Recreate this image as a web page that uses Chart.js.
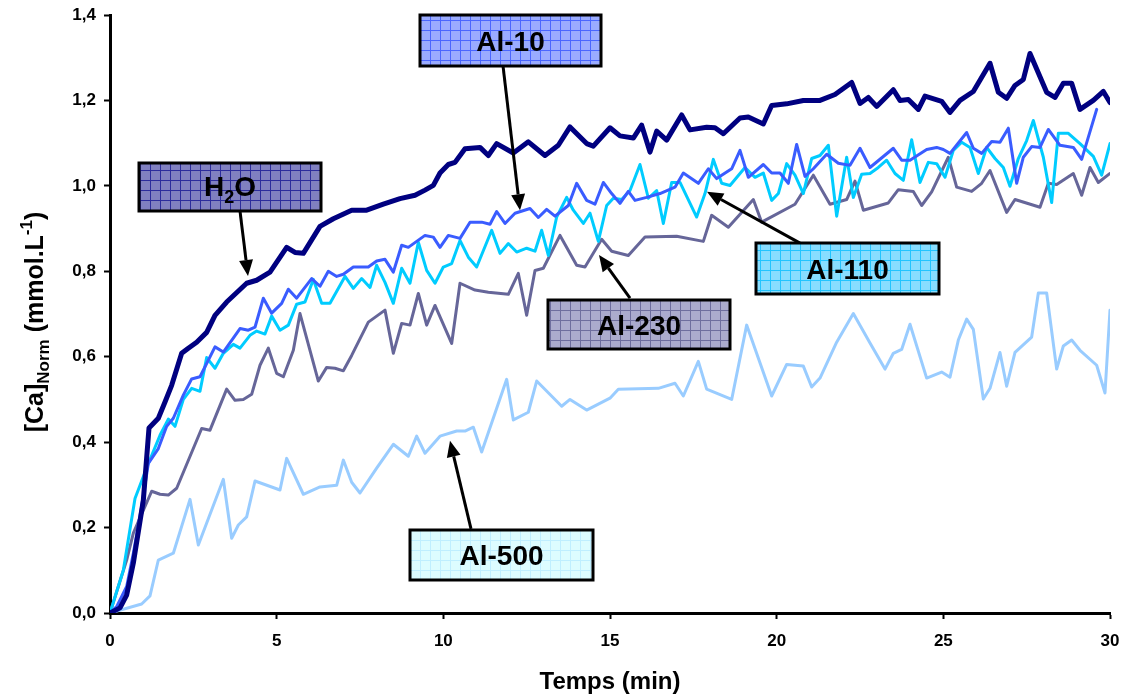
<!DOCTYPE html>
<html>
<head>
<meta charset="utf-8">
<script src="https://cdn.jsdelivr.net/npm/chart.js@4.4.1/dist/chart.umd.min.js"></script>
<style>
html,body{margin:0;padding:0;background:#fff;}
#wrap{width:1125px;height:697px;}
</style>
</head>
<body>
<div id="wrap"><canvas id="c" width="1125" height="697"></canvas></div>
<script>
// ---- DATA (time in min, [Ca]Norm in mmol/L) ----
const xTicks = [0, 5, 10, 15, 20, 25, 30];
const yTicks = [0, 0.2, 0.4, 0.6, 0.8, 1.0, 1.2, 1.4];
const seriesNames = ['H2O', 'Al-10', 'Al-110', 'Al-230', 'Al-500'];

const h2oT = [0,0.3,0.5,0.7,1.0,1.17,1.45,1.65,1.85,2.15,2.35,2.6,2.9,3.15,3.5,4.1,4.4,4.8,5.3,5.55,5.8,6.3,6.7,7.25,7.7,8.2,8.7,9.15,9.45,9.7,9.9,10.15,10.35,10.65,11.1,11.35,11.6,12.1,12.55,13.05,13.45,13.8,14.3,14.5,15.0,15.3,15.7,15.95,16.2,16.4,16.7,17.15,17.4,17.9,18.15,18.4,18.9,19.15,19.6,19.85,20.3,20.8,21.3,21.75,22.25,22.5,22.75,23.0,23.5,23.7,23.95,24.25,24.45,24.95,25.2,25.5,25.9,26.4,26.65,26.9,27.15,27.4,27.6,28.1,28.35,28.6,28.85,29.1,29.5,29.8,30];
const h2oV = [0,0.012,0.042,0.117,0.264,0.433,0.456,0.494,0.533,0.608,0.62,0.634,0.657,0.697,0.728,0.772,0.779,0.798,0.856,0.844,0.842,0.905,0.923,0.943,0.943,0.957,0.97,0.978,0.99,1.001,1.03,1.05,1.055,1.087,1.09,1.071,1.099,1.077,1.103,1.071,1.095,1.138,1.099,1.093,1.136,1.117,1.112,1.142,1.079,1.128,1.107,1.166,1.131,1.137,1.136,1.122,1.159,1.161,1.145,1.188,1.192,1.2,1.2,1.214,1.242,1.193,1.207,1.186,1.225,1.2,1.202,1.179,1.21,1.198,1.172,1.2,1.221,1.287,1.219,1.205,1.235,1.249,1.31,1.219,1.207,1.24,1.24,1.179,1.2,1.221,1.195];

const al10T = [0,0.2,0.5,0.7,0.95,1.15,1.45,1.7,1.9,2.2,2.45,2.7,3.15,3.4,3.9,4.15,4.35,4.6,4.85,5.15,5.35,5.6,6.05,6.3,6.55,6.8,7.0,7.3,7.75,8.0,8.25,8.5,8.75,8.95,9.45,9.7,9.9,10.15,10.5,10.8,11.15,11.4,11.6,11.85,12.15,12.6,12.85,13.1,13.35,13.75,14.0,14.3,14.55,14.8,15.05,15.3,15.55,15.75,16.1,16.5,16.95,17.2,17.65,17.95,18.2,18.65,18.9,19.15,19.6,19.85,20.1,20.35,20.6,20.85,21.1,21.5,21.85,22.2,22.5,22.8,23.5,23.75,24.0,24.5,24.8,25.0,25.2,25.7,25.9,26.15,26.45,26.7,26.95,27.2,27.4,27.65,27.9,28.15,28.5,28.9,29.15,29.6];
const al10V = [0,0.015,0.062,0.14,0.25,0.35,0.385,0.437,0.456,0.51,0.548,0.553,0.623,0.611,0.666,0.662,0.669,0.737,0.702,0.725,0.758,0.737,0.783,0.765,0.8,0.788,0.793,0.81,0.81,0.824,0.828,0.798,0.861,0.856,0.884,0.88,0.856,0.884,0.877,0.915,0.915,0.91,0.94,0.912,0.936,0.947,0.926,0.945,0.929,0.954,1.006,0.966,0.957,1.008,0.982,0.959,0.987,0.966,0.973,0.982,0.997,1.03,1.006,1.04,1.017,1.04,1.083,1.02,1.05,1.03,1.03,1.006,1.097,1.022,1.04,1.074,1.053,1.048,1.088,1.043,1.088,1.06,1.06,1.085,1.09,1.085,1.076,1.125,1.088,1.076,1.104,1.102,1.135,1.006,1.067,1.092,1.09,1.132,1.095,1.09,1.062,1.179];

const al110T = [0,0.4,0.75,1.15,1.5,1.75,1.95,2.2,2.45,2.7,2.9,3.15,3.4,3.7,3.9,4.2,4.4,4.65,4.85,5.1,5.35,5.6,5.85,6.1,6.35,6.6,7.05,7.3,7.55,7.8,8.0,8.25,8.5,8.75,9.0,9.25,9.5,9.75,10.0,10.25,10.5,10.75,11.0,11.45,11.7,11.95,12.2,12.5,12.75,12.95,13.15,13.4,13.7,13.9,14.2,14.4,14.65,14.9,15.1,15.35,15.6,15.9,16.15,16.4,16.6,16.85,17.1,17.6,17.85,18.1,18.35,18.6,19.05,19.35,19.6,19.85,20.05,20.3,20.55,20.8,21.05,21.3,21.55,21.8,22.1,22.3,22.55,22.8,23.05,23.3,23.55,23.8,24.05,24.3,24.55,24.8,25.05,25.3,25.55,25.8,26.05,26.3,26.55,26.8,27.0,27.25,27.5,27.7,28.0,28.25,28.45,28.75,29.1,29.5,29.75,30];
const al110V = [0,0.1,0.268,0.35,0.416,0.454,0.437,0.5,0.526,0.519,0.598,0.573,0.608,0.629,0.62,0.65,0.66,0.653,0.695,0.662,0.674,0.723,0.728,0.781,0.725,0.725,0.788,0.76,0.783,0.762,0.814,0.774,0.725,0.807,0.772,0.868,0.802,0.772,0.81,0.818,0.872,0.833,0.81,0.896,0.842,0.865,0.845,0.854,0.847,0.896,0.837,0.927,0.973,0.943,0.912,0.936,0.87,0.954,0.971,0.968,0.989,1.05,0.971,0.989,0.912,1.008,1.008,0.927,0.982,1.062,1.006,1.001,1.043,1.02,1.03,0.966,0.982,1.052,1.025,0.982,1.064,1.071,1.095,0.929,1.067,0.973,1.027,1.029,1.043,1.06,1.029,1.013,1.108,1.008,1.055,1.052,1.02,1.083,1.102,1.09,1.029,1.09,1.064,1.043,0.999,1.064,1.106,1.153,1.067,0.961,1.123,1.123,1.099,1.069,1.025,1.099];

const al230T = [0,0.5,0.7,1.25,1.5,1.75,2.0,2.75,3.0,3.5,3.75,4.0,4.25,4.5,4.75,5.0,5.2,5.5,5.7,6.25,6.5,6.75,7.0,7.25,7.75,8.25,8.5,8.75,9.0,9.25,9.5,9.75,10.25,10.5,10.95,11.35,11.95,12.25,12.5,12.75,13.0,13.5,14.0,14.25,14.75,15.05,15.55,16.05,17.0,17.8,18.05,18.55,19.3,19.55,20.55,21.1,21.6,22.1,22.35,22.6,23.35,23.65,24.1,24.35,24.65,25.15,25.4,25.85,26.15,26.4,26.9,27.15,27.9,28.15,28.4,28.9,29.15,29.4,29.65,30];
const al230V = [0,0.124,0.187,0.285,0.278,0.276,0.292,0.432,0.428,0.524,0.498,0.5,0.512,0.58,0.62,0.561,0.553,0.615,0.701,0.543,0.575,0.573,0.567,0.603,0.681,0.709,0.608,0.678,0.674,0.748,0.674,0.72,0.631,0.772,0.756,0.751,0.746,0.795,0.697,0.802,0.807,0.884,0.814,0.81,0.875,0.847,0.837,0.88,0.882,0.87,0.931,0.903,0.968,0.915,0.957,1.025,0.957,0.968,1.011,0.943,0.96,0.991,0.987,0.954,0.986,1.067,0.997,0.987,1.006,1.036,0.938,0.968,0.95,1.006,1.003,1.029,0.978,1.043,1.008,1.029];

const al500T = [0,0.95,1.2,1.45,1.9,2.4,2.65,3.4,3.65,3.85,4.1,4.35,5.1,5.3,5.8,6.3,6.8,7.0,7.25,7.5,8.0,8.5,8.95,9.2,9.45,9.9,10.4,10.65,10.9,11.15,11.9,12.1,12.55,12.8,13.55,13.8,14.3,15.0,15.25,16.45,16.95,17.2,17.65,17.9,18.65,19.1,19.85,20.3,20.8,21.05,21.3,21.8,22.3,22.8,23.25,23.5,23.75,24.0,24.5,24.95,25.2,25.45,25.7,25.9,26.2,26.4,26.7,26.9,27.15,27.65,27.85,28.1,28.4,28.6,28.85,29.1,29.6,29.85,30];
const al500V = [0,0.021,0.04,0.124,0.14,0.266,0.159,0.313,0.175,0.206,0.225,0.309,0.288,0.362,0.278,0.295,0.299,0.358,0.306,0.281,0.339,0.395,0.367,0.414,0.374,0.414,0.426,0.426,0.435,0.377,0.547,0.452,0.47,0.543,0.484,0.5,0.475,0.503,0.524,0.526,0.538,0.508,0.589,0.524,0.5,0.674,0.508,0.582,0.578,0.529,0.55,0.634,0.701,0.632,0.571,0.608,0.617,0.676,0.55,0.564,0.552,0.639,0.688,0.664,0.501,0.526,0.61,0.531,0.61,0.646,0.749,0.749,0.571,0.625,0.639,0.615,0.58,0.515,0.709];

// ---- STYLE / ANNOTATION CONFIG ----
const lineColors = {'H2O':'#000080','Al-10':'#3a5cff','Al-110':'#00ccff','Al-230':'#666699','Al-500':'#99ccff'};
const lineWidths = {'H2O':5,'Al-10':3,'Al-110':3,'Al-230':3,'Al-500':3};

// label boxes: centre in data units, size in px
const labelBoxes = [
  {name:'Al-10',  t:12.015, v:1.3403, w:181, h:51, base:'#9aabff', line:'#4a66ff'},
  {name:'H2O',    t:3.6,    v:0.997,  w:182, h:48, base:'#8080c0', line:'#2c2c9c'},
  {name:'Al-110', t:22.125, v:0.8065, w:183, h:51, base:'#88ddff', line:'#22c4ff'},
  {name:'Al-230', t:15.87,  v:0.675,  w:182, h:49, base:'#ababcd', line:'#6e6e9e'},
  {name:'Al-500', t:11.745, v:0.1358, w:183, h:50, base:'#ddfcff', line:'#bfeeff'}
];
// arrows: tail -> tip in data units
const arrows = [
  {t0:3.9,  v0:0.941, t1:4.14,  v1:0.789},
  {t0:11.79,v0:1.281, t1:12.3,  v1:0.943},
  {t0:20.7, v0:0.866, t1:17.91, v1:0.986},
  {t0:15.6, v0:0.737, t1:14.67, v1:0.838},
  {t0:10.83,v0:0.197, t1:10.2,  v1:0.403}
];

function zip(ts, vs){ return ts.map((t,i)=>({x:t, y:vs[i]})); }
const seriesData = {
  'H2O': zip(h2oT,h2oV), 'Al-10': zip(al10T,al10V), 'Al-110': zip(al110T,al110V),
  'Al-230': zip(al230T,al230V), 'Al-500': zip(al500T,al500V)
};
const drawOrder = ['Al-500','Al-230','Al-110','Al-10','H2O'];

function makePattern(ctx, base, line){
  const c = document.createElement('canvas');
  c.width = 10; c.height = 10;
  const g = c.getContext('2d');
  g.fillStyle = base; g.fillRect(0,0,10,10);
  g.fillStyle = line;
  g.fillRect(0,0,10,1);
  g.fillRect(0,0,1,10);
  return ctx.createPattern(c,'repeat');
}

const FONT = '"Liberation Sans", Arial, sans-serif';

const annotPlugin = {
  id:'annot',
  afterDatasetsDraw(chart){
    const ctx = chart.ctx, xs = chart.scales.x, ys = chart.scales.y;
    ctx.save();
    arrows.forEach(a=>{
      const x0 = xs.getPixelForValue(a.t0), y0 = ys.getPixelForValue(a.v0);
      const x1 = xs.getPixelForValue(a.t1), y1 = ys.getPixelForValue(a.v1);
      const ang = Math.atan2(y1-y0, x1-x0);
      const hl = 16, hw = 7;
      const bx = x1 - hl*Math.cos(ang), by = y1 - hl*Math.sin(ang);
      ctx.strokeStyle = '#000'; ctx.lineWidth = 3; ctx.lineCap = 'butt';
      ctx.beginPath(); ctx.moveTo(x0,y0); ctx.lineTo(bx,by); ctx.stroke();
      ctx.fillStyle = '#000';
      ctx.beginPath();
      ctx.moveTo(x1,y1);
      ctx.lineTo(bx + hw*Math.sin(ang), by - hw*Math.cos(ang));
      ctx.lineTo(bx - hw*Math.sin(ang), by + hw*Math.cos(ang));
      ctx.closePath(); ctx.fill();
    });
    labelBoxes.forEach(b=>{
      const cx = xs.getPixelForValue(b.t), cy = ys.getPixelForValue(b.v);
      const x = Math.round(cx - b.w/2), y = Math.round(cy - b.h/2);
      ctx.fillStyle = makePattern(ctx, b.base, b.line);
      ctx.fillRect(x, y, b.w, b.h);
      ctx.strokeStyle = '#000'; ctx.lineWidth = 3;
      ctx.strokeRect(x, y, b.w, b.h);
      ctx.fillStyle = '#000';
      ctx.textBaseline = 'alphabetic';
      if (b.name === 'H2O'){
        const big = 'bold 28px ' + FONT, small = 'bold 18px ' + FONT;
        ctx.font = big; const wH = ctx.measureText('H').width, wO = ctx.measureText('O').width;
        ctx.font = small; const w2 = ctx.measureText('2').width;
        let tx = cx - (wH + w2 + wO)/2, base = cy + 9;
        ctx.font = big; ctx.textAlign='left'; ctx.fillText('H', tx, base); tx += wH;
        ctx.font = small; ctx.fillText('2', tx, base + 7); tx += w2;
        ctx.font = big; ctx.fillText('O', tx, base);
      } else {
        ctx.font = 'bold 28px ' + FONT;
        ctx.textAlign = 'center';
        ctx.fillText(b.name, cx, cy + 10);
      }
    });
    ctx.restore();
  },
  afterDraw(chart){
    const ctx = chart.ctx;
    const cy = 322;
    ctx.save();
    ctx.translate(34, cy);
    ctx.rotate(-Math.PI/2);
    ctx.fillStyle = '#000';
    ctx.textBaseline = 'alphabetic';
    ctx.textAlign = 'left';
    const big = 'bold 25px ' + FONT, small = 'bold 17px ' + FONT;
    const parts = [
      {s:'[Ca]', f:big, dy:0},
      {s:'Norm', f:small, dy:6},
      {s:' (mmol.L', f:big, dy:0},
      {s:'-1', f:small, dy:-11},
      {s:')', f:big, dy:0}
    ];
    let total = 0;
    parts.forEach(p=>{ ctx.font = p.f; p.w = ctx.measureText(p.s).width; total += p.w; });
    let x = -total/2;
    parts.forEach(p=>{ ctx.font = p.f; ctx.fillText(p.s, x, 9 + p.dy); x += p.w; });
    ctx.restore();
  }
};

new Chart(document.getElementById('c'), {
  type:'line',
  data:{
    datasets: drawOrder.map((n,i)=>({
      label:n,
      data:seriesData[n],
      borderColor:lineColors[n],
      backgroundColor:lineColors[n],
      borderWidth:lineWidths[n],
      pointRadius:0,
      tension:0,
      fill:false,
      borderJoinStyle:'round',
      borderCapStyle:'round',
      order: drawOrder.length - i
    }))
  },
  options:{
    responsive:false,
    animation:false,
    devicePixelRatio:1,
    layout:{padding:{left:0,right:15,top:15,bottom:0}},
    plugins:{legend:{display:false}, tooltip:{enabled:false}},
    scales:{
      x:{
        type:'linear', min:0, max:30,
        afterBuildTicks(s){ s.ticks = xTicks.map(v=>({value:v})); },
        afterFit(s){ s.height = 84; s.paddingLeft = 0; s.paddingRight = 0; },
        ticks:{ color:'#000', font:{family:FONT, size:17, weight:'bold'}, padding:12,
                callback:v=>String(v), maxRotation:0 },
        grid:{ display:true, drawOnChartArea:false, drawTicks:true, tickLength:6, tickWidth:2, color:'#000' },
        border:{ display:true, color:'#000', width:3 },
        title:{ display:true, text:'Temps (min)', color:'#000', font:{family:FONT, size:24, weight:'bold'}, padding:{top:2,bottom:0} }
      },
      y:{
        type:'linear', min:0, max:1.4,
        afterBuildTicks(s){ s.ticks = yTicks.map(v=>({value:v})); },
        afterFit(s){ s.width = 110; s.paddingTop = 0; s.paddingBottom = 0; },
        ticks:{ color:'#000', font:{family:FONT, size:17, weight:'bold'}, padding:8,
                callback:v=>Number(v).toFixed(1).replace('.',',') },
        grid:{ display:true, drawOnChartArea:false, drawTicks:true, tickLength:6, tickWidth:2, color:'#000' },
        border:{ display:true, color:'#000', width:3 }
      }
    }
  },
  plugins:[annotPlugin]
});
</script>
</body>
</html>
